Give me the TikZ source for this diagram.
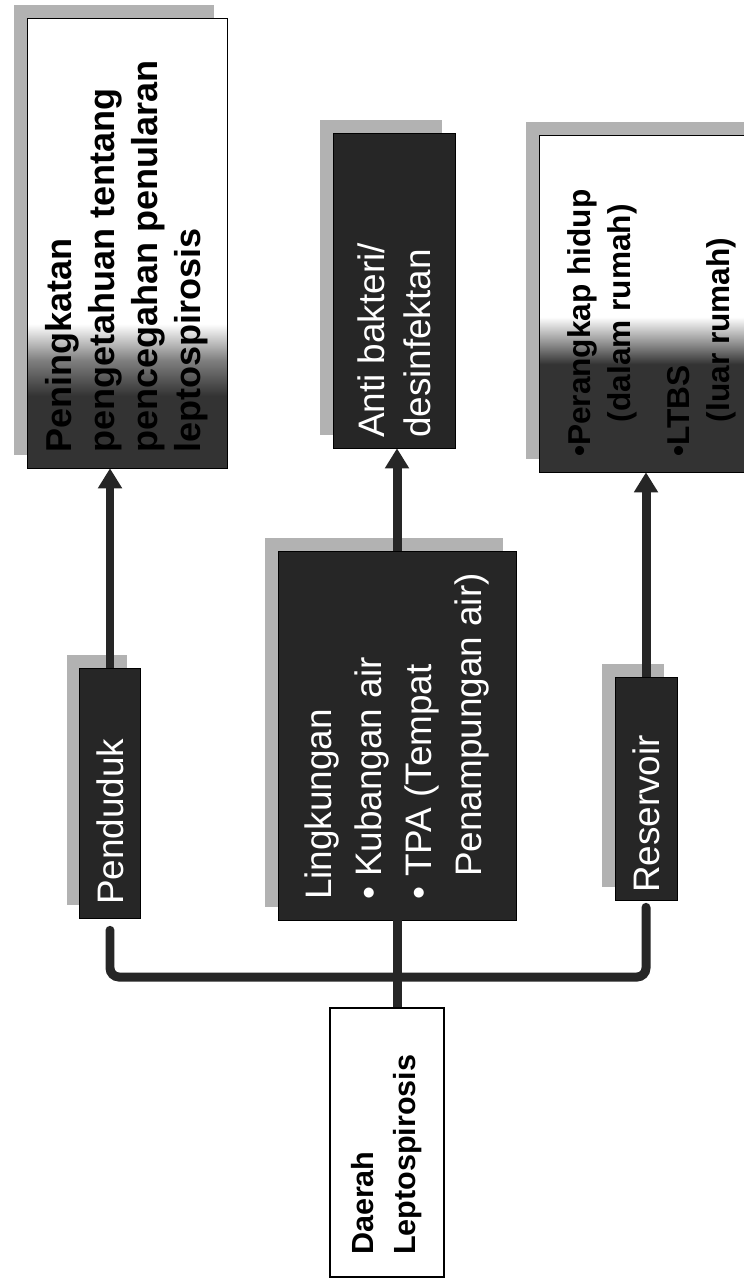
\documentclass[tikz,border=0pt]{standalone}
\usepackage{graphicx}
\usepackage{fontspec}
\setmainfont{Liberation Sans}
\usetikzlibrary{arrows.meta, shadows}
\pgfdeclareverticalshading{fadepen}{100bp}{color(0bp)=(black!80); color(33bp)=(black!80); color(37bp)=(black!50); color(41bp)=(white); color(100bp)=(white)}
\pgfdeclareverticalshading{fadeper}{100bp}{color(0bp)=(black!80); color(41bp)=(black!80); color(44bp)=(black!45); color(48bp)=(white); color(100bp)=(white)}
\newcommand{\uptext}[3]{\rotatebox{90}{\parbox{#1}{#2\raggedright #3}}}
\tikzset{
    darkbox/.style = {draw = black, fill = black!85, text = white, inner sep = 0pt,
        general shadow = {fill = black!30, shadow xshift = -0.26cm, shadow yshift = 0.26cm}},
    fadebox/.style = {draw = black, shading = #1, inner sep = 0pt,
        general shadow = {fill = black!30, shadow xshift = -0.26cm, shadow yshift = 0.26cm}},
    whitebox/.style = {draw = black, fill = white, line width = 0.8pt, inner sep = 0pt},
    link/.style = {line width = 0.18cm, draw = black!85},
    tip/.style = {-{Triangle[width = 0.46cm, length = 0.4cm]}}
}
\begin{document}
\begin{tikzpicture}[x = 0.02cm, y = -0.02cm]
        \useasboundingbox (0, 0) rectangle (744, 1282);
        \fill[white] (0, 0) rectangle (744, 1282);
        \node[fadebox = fadepen, minimum width = 4cm, minimum height = 9cm] (pen) at (127, 243)
            {\uptext{8.4cm}{\fontsize{20.5}{24.5}\selectfont\bfseries}{Peningkatan\\ pengetahuan tentang\\ pencegahan penularan\\ leptospirosis}};
        \node[darkbox, minimum width = 2.44cm, minimum height = 6.3cm] (anti) at (394, 290.5)
            {\uptext{5.9cm}{\fontsize{21}{26}\selectfont}{Anti bakteri/\\ desinfektan}};
        \node[fadebox = fadeper, minimum width = 4.52cm, minimum height = 6.74cm] (per) at (652, 303.5)
            {\uptext{6.14cm}{\fontsize{18}{22.8}\selectfont\bfseries}{\textbullet Perangkap hidup\\ \hspace*{1.1em}(dalam rumah)\\[11pt] \textbullet LTBS\\ \hspace*{1.1em}(luar rumah)}};
        \node[darkbox, minimum width = 1.22cm, minimum height = 5cm] (pend) at (110, 793)
            {\uptext{4.48cm}{\fontsize{21}{26}\selectfont}{Penduduk}};
        \node[darkbox, minimum width = 4.76cm, minimum height = 7.38cm] (ling) at (397, 735.5)
            {\uptext{6.58cm}{\fontsize{21}{28.5}\selectfont}{Lingkungan\\ \textbullet\ Kubangan air\\ \textbullet\ TPA (Tempat\\ \hspace*{0.63em}Penampungan air)}};
        \node[darkbox, minimum width = 1.24cm, minimum height = 4.46cm] (res) at (646, 788.5)
            {\uptext{4.18cm}{\fontsize{21}{26}\selectfont}{Reservoir}};
        \node[whitebox, minimum width = 2.28cm, minimum height = 5.38cm] (dae) at (387, 1142.5)
            {\uptext{4.5cm}{\fontsize{17.4}{24}\selectfont\bfseries}{Daerah\\ Leptospirosis}};
        \coordinate (bar) at (397, 977);
        \draw[link, tip] (pend.north) -- (pend.north |- pen.south);
        \draw[link, tip] (ling.north) -- (ling.north |- anti.south);
        \draw[link, tip] (res.north) -- (res.north |- per.south);
        \draw[link, line cap = round, rounded corners = 0.18cm] ([yshift = -0.24cm]pend.south) -- (pend.south |- bar) -- (res.south |- bar) -- ([yshift = -0.14cm]res.south);
        \draw[link] (ling.south) -- (ling.south |- dae.north);
    \end{tikzpicture}
\end{document}
